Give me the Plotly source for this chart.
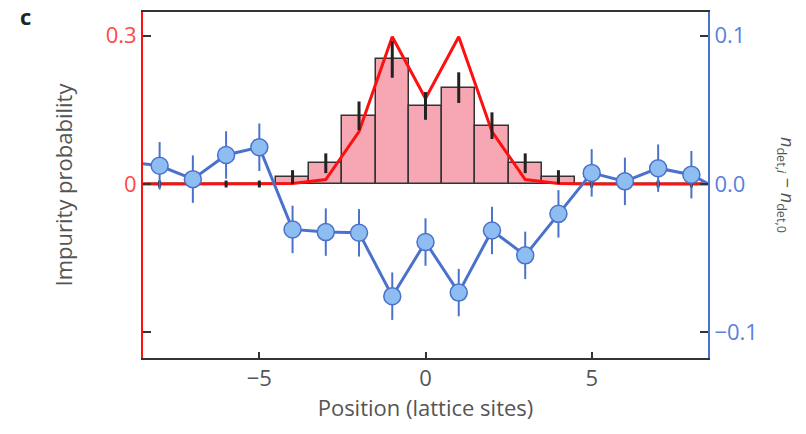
import plotly.graph_objects as go

# ---- data ----
positions = list(range(-8, 9))
impurity_prob = [0, 0, 0, 0, 0.014, 0.042, 0.138, 0.252, 0.158, 0.195, 0.118, 0.042, 0.014, 0, 0, 0, 0]
impurity_err = [0.007, 0.007, 0.007, 0.007, 0.014, 0.02, 0.029, 0.037, 0.028, 0.031, 0.027, 0.02, 0.014, 0.007, 0.007, 0.007, 0.007]

theory_x = list(range(-9, 10))
theory_y = [0, 0, 0, 0, 0, 0.001, 0.009, 0.106, 0.298, 0.173, 0.298, 0.106, 0.009, 0.001, 0, 0, 0, 0, 0]

det_x = list(range(-9, 10))
det_y = [0.015, 0.0123, 0.0033, 0.0196, 0.0248, -0.0306, -0.0324, -0.0329, -0.0756, -0.0391,
         -0.0732, -0.0313, -0.0481, -0.0201, 0.0075, 0.0018, 0.0107, 0.0063, -0.006]
det_err = [0.016] * len(det_x)

x_ticks = [-5, 0, 5]
x_labels = ["\u22125", "0", "5"]
y1_ticks = [0.3, 0]
y1_labels = ["0.3", "0"]
y2_ticks = [0.1, 0.0, -0.1]
y2_labels = ["0.1", "0.0", "\u22120.1"]

RED = "#ff1010"
BLUE = "#4a72cc"
FONT = "Open Sans"

fig = go.Figure()

fig.add_trace(go.Bar(
    x=positions, y=impurity_prob, width=1,
    marker=dict(color="#f7a6b3", line=dict(color="#333333", width=1.5)),
    yaxis="y", showlegend=False,
))
fig.add_trace(go.Scatter(
    x=theory_x, y=theory_y, mode="lines",
    line=dict(color=RED, width=3),
    yaxis="y", showlegend=False,
))
fig.add_trace(go.Scatter(
    x=positions, y=impurity_prob, mode="markers",
    marker=dict(size=1, opacity=0),
    error_y=dict(type="data", array=impurity_err, color="#222222", thickness=3, width=0),
    yaxis="y", showlegend=False,
))
fig.add_trace(go.Scatter(
    x=det_x, y=det_y, mode="lines+markers",
    line=dict(color=BLUE, width=3),
    marker=dict(size=17, color="#8ebdf2", line=dict(color=BLUE, width=1.5)),
    error_y=dict(type="data", array=det_err, color=BLUE, thickness=2, width=0),
    yaxis="y2", showlegend=False,
))

fig.update_layout(
    width=806, height=434,
    margin=dict(l=143, r=98, t=10, b=76),
    paper_bgcolor="white", plot_bgcolor="white",
    font=dict(family=FONT, size=22, color="#555555"),
    bargap=0,
    xaxis=dict(
        range=[-8.5, 8.5], tickvals=x_ticks, ticktext=x_labels,
        ticks="inside", ticklen=6, tickwidth=1.5, tickcolor="#333333",
        showline=True, linecolor="#333333", linewidth=1.5, mirror=True,
        showgrid=False, zeroline=False,
        tickfont=dict(size=22, color="#555555"),
        title=dict(text="Position (lattice sites)", font=dict(size=22, color="#555555"), standoff=8),
    ),
    yaxis=dict(
        range=[-0.352, 0.348], tickvals=y1_ticks, ticktext=y1_labels,
        ticks="inside", ticklen=8, tickwidth=1.5, tickcolor="#333333",
        minor=dict(tick0=-0.3, dtick=0.6, ticks="inside", ticklen=8, tickwidth=1.5,
                   tickcolor="#333333", showgrid=False),
        showline=True, linecolor=RED, linewidth=2,
        showgrid=False, zeroline=False,
        tickfont=dict(size=22, color="#ff4848"),
        title=dict(text="Impurity probability", font=dict(size=22, color="#555555"), standoff=27),
    ),
    yaxis2=dict(
        range=[-0.1173, 0.116], tickvals=y2_ticks, ticktext=y2_labels,
        overlaying="y", side="right",
        ticks="inside", ticklen=8, tickwidth=1.5, tickcolor="#333333",
        showline=True, linecolor=BLUE, linewidth=2,
        showgrid=False, zeroline=False,
        tickfont=dict(size=22, color="#5a80dc"),
    ),
    annotations=[
        dict(text="<b>c</b>", x=25, y=14, xref="paper", yref="paper", showarrow=False,
             font=dict(size=22, color="#222222")),
        dict(text="<i>n</i><sub>det,<i>i</i></sub> \u2212 <i>n</i><sub>det,0</sub>",
             x=787, y=184, xref="paper", yref="paper", showarrow=False, textangle=90,
             font=dict(size=18, color="#555555")),
    ],
)

# convert pixel positions of the annotations to paper coordinates
pl, pr, pt, pb = 143, 708, 10, 358
for a in fig.layout.annotations:
    a.x = (a.x - pl) / (pr - pl)
    a.y = (pb - a.y) / (pb - pt)
    a.xanchor = "center"
    a.yanchor = "middle"

fig.write_html("out.html")
